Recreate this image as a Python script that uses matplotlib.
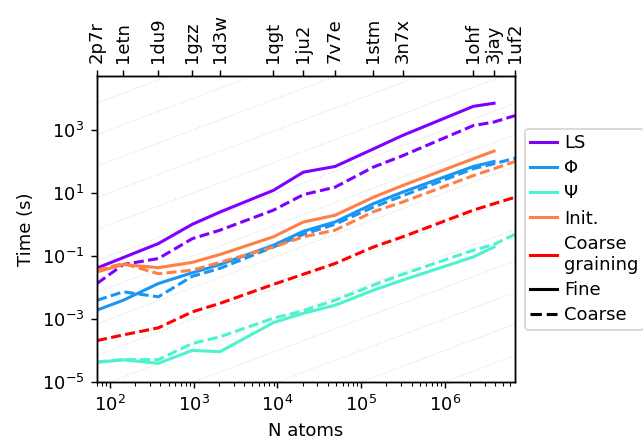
import numpy as np
import matplotlib
matplotlib.use("Agg")
import matplotlib.pyplot as plt
from matplotlib.lines import Line2D
from matplotlib.ticker import NullLocator

# ── data ─────────────────────────────────────────────────────────────
pdb_ids = ["2p7r", "1etn", "1du9", "1gzz", "1d3w", "1qgt", "1ju2",
           "7v7e", "1stm", "3n7x", "1ohf", "3jay", "1uf2"]
n_atoms = [70, 144, 378, 962, 2060, 8940, 20400, 48700,
           140000, 314000, 2190000, 3870000, 6900000]

# fine runs stop at 3jay, coarse runs go up to 1uf2
ls_fine     = [0.041, 0.088, 0.245, 1.0, 2.45, 11.9, 45, 68, 245, 660, 5500, 6900]
ls_coarse   = [0.0133, 0.053, 0.082, 0.35, 0.65, 2.8, 8.7, 15, 65, 150, 1350, 1750, 2800]
phi_fine    = [0.0019, 0.0039, 0.0132, 0.029, 0.053, 0.216, 0.6, 1.18, 4.5, 10.5, 68, 98]
phi_coarse  = [0.0039, 0.0072, 0.005, 0.0224, 0.04, 0.19, 0.48, 1.0, 3.5, 8, 58, 83, 125]
psi_fine    = [4.2e-5, 5e-5, 3.9e-5, 1.0e-4, 9.1e-5, 7.6e-4, 1.5e-3, 2.7e-3,
               8.1e-3, 0.017, 0.092, 0.19]
psi_coarse  = [4.3e-5, 5.1e-5, 5.1e-5, 1.66e-4, 2.7e-4, 1.05e-3, 1.8e-3, 3.9e-3,
               0.0117, 0.026, 0.15, 0.23, 0.48]
init_fine   = [0.031, 0.053, 0.042, 0.062, 0.11, 0.40, 1.18, 1.93, 7.2, 17, 120, 210]
init_coarse = [0.035, 0.057, 0.027, 0.035, 0.062, 0.19, 0.40, 0.65, 2.5, 5.1, 35, 58, 98]
cg_coarse   = [2.05e-4, 3.1e-4, 5.2e-4, 1.67e-3, 3.1e-3, 0.0124, 0.026, 0.057,
               0.19, 0.40, 2.8, 4.5, 7.2]

labels = ["LS", "Φ", "Ψ", "Init.", "Coarse\ngraining"]
colors = ["#8000ff", "#1996f3", "#4df3ce", "#ff7f46", "#ff0000"]
fine_series = [ls_fine, phi_fine, psi_fine, init_fine, None]
coarse_series = [ls_coarse, phi_coarse, psi_coarse, init_coarse, cg_coarse]

LW = 1.7

# ── figure ───────────────────────────────────────────────────────────
DPI = 130
fig = plt.figure(figsize=(643 / DPI, 440 / DPI), dpi=DPI)
ax = fig.add_axes([0.151, 0.132, 0.650, 0.695])

xmin, xmax = n_atoms[0], n_atoms[-1]
ymin, ymax = 1e-5, 5e4

# faint linear-scaling guides: t = 10^k * N
xg = np.array([xmin, xmax], dtype=float)
for k in range(-13, 5):
    ax.plot(xg, 10.0 ** k * xg, ls=":", lw=0.6, color="0.86", zorder=0)

for fine, coarse, c in zip(fine_series, coarse_series, colors):
    if fine is not None:
        ax.plot(n_atoms[:len(fine)], fine, "-", color=c, lw=LW)
    ax.plot(n_atoms[:len(coarse)], coarse, "--", color=c, lw=LW,
            dashes=(3.7 * 1.5 / LW, 1.6 * 1.5 / LW))

ax.set_xscale("log")
ax.set_yscale("log")
ax.set_xlim(xmin, xmax)
ax.set_ylim(ymin, ymax)
ax.set_xlabel("N atoms")
ax.set_ylabel("Time (s)")

# PDB ids on the top axis
top = ax.twiny()
top.set_xscale("log")
top.set_xlim(xmin, xmax)
top.set_xticks(n_atoms)
top.set_xticklabels(pdb_ids, rotation=90)
top.xaxis.set_minor_locator(NullLocator())

handles = [Line2D([], [], color=c, lw=LW) for c in colors]
handles += [Line2D([], [], color="k", lw=LW),
            Line2D([], [], color="k", lw=LW, ls="--")]
ax.legend(handles, labels + ["Fine", "Coarse"], loc="center left",
          bbox_to_anchor=(1.024, 0.5), borderaxespad=0, handlelength=1.45,
          handletextpad=0.4, borderpad=0.3, labelspacing=0.4)

fig.savefig("out.png", dpi=DPI)
